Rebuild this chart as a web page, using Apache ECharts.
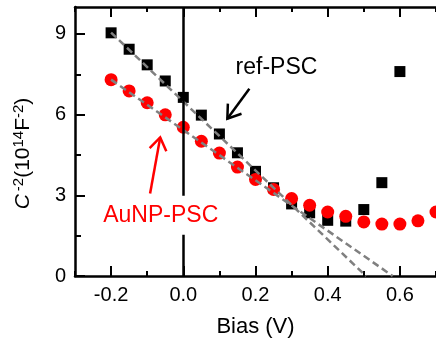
<!DOCTYPE html>
<html>
<head>
<meta charset="utf-8">
<script src="https://cdn.jsdelivr.net/npm/echarts@6/dist/echarts.min.js"></script>
<style>
  html, body { margin: 0; padding: 0; background: #fff; }
  #chart { width: 436px; height: 343px; }
</style>
</head>
<body>
<div id="chart"></div>
<script>
// values
const refBias = [-0.2, -0.15, -0.1, -0.05, 0, 0.05, 0.1, 0.15, 0.2, 0.25, 0.3, 0.35, 0.4, 0.45, 0.5, 0.55, 0.6];
const refPsc = [9.04, 8.43, 7.85, 7.25, 6.64, 5.98, 5.28, 4.58, 3.89, 3.28, 2.68, 2.35, 2.07, 2.04, 2.47, 3.47, 7.6];
const aunpBias = [-0.2, -0.15, -0.1, -0.05, 0, 0.05, 0.1, 0.15, 0.2, 0.25, 0.3, 0.35, 0.4, 0.45, 0.5, 0.55, 0.6, 0.65, 0.7];
const aunpPsc = [7.3, 6.88, 6.44, 5.99, 5.53, 5.01, 4.57, 4.05, 3.59, 3.22, 2.88, 2.63, 2.38, 2.22, 2.01, 1.93, 1.93, 2.05, 2.38];

// linear fits (start, x-intercept)
const refFit = [[-0.2, 9.05], [0.506, 0]];
const aunpFit = [[-0.2, 7.3], [0.58, 0]];

const xMajorTicks = [-0.2, 0, 0.2, 0.4, 0.6];
const yMajorTicks = [0, 3, 6, 9];
const yMinorTicks = [1.5, 4.5, 7.5];

// annotations: label text, label anchor, arrow tail -> arrow tip (data units)
const noteText = ['ref-PSC', 'AuNP-PSC'];
const noteAt = [[0.258, 7.74], [-0.0625, 2.26]];
const noteArrow = [[0.183, 6.96, 0.122, 5.85], [-0.092, 3.07, -0.064, 5.15]];
const noteColor = ['#000000', '#ff0000'];

const FONT = '"Liberation Sans", Arial, sans-serif';

const chart = echarts.init(document.getElementById('chart'));

const zip = (xs, ys) => xs.map((x, i) => [x, ys[i]]);

const xBase = {
  type: 'value', min: -0.3, max: 0.7, interval: 0.1,
  axisLine: { show: true, onZero: false, lineStyle: { color: '#000', width: 2.5 } },
  splitLine: { show: false },
  axisLabel: { show: false },
  axisTick: { show: true, inside: true, length: 5, lineStyle: { color: '#000', width: 2 } }
};

const xMajor = {
  type: 'value', min: -0.3, max: 0.7,
  axisLine: { show: false, onZero: false },
  splitLine: { show: false },
  axisLabel: { show: false },
  axisTick: { show: true, inside: true, length: 10, customValues: xMajorTicks, lineStyle: { color: '#000', width: 2 } }
};

const option = {
  animation: false,
  backgroundColor: '#fff',
  grid: { left: 75, right: 0, top: 7, bottom: 67, containLabel: false, outerBoundsMode: 'none' },
  xAxis: [
    Object.assign({}, xMajor, {
      position: 'bottom',
      name: 'Bias (V)', nameLocation: 'middle', nameGap: 40,
      nameTextStyle: { fontSize: 22, fontFamily: FONT, color: '#000' },
      axisLabel: {
        show: true, customValues: xMajorTicks, margin: 9,
        fontSize: 20, fontFamily: FONT, color: '#000',
        formatter: v => v.toFixed(1)
      }
    }),
    Object.assign({}, xBase, { position: 'bottom' }),
    Object.assign({}, xBase, { position: 'top' }),
    Object.assign({}, xMajor, { position: 'top' })
  ],
  yAxis: [
    {
      type: 'value', min: 0, max: 10, position: 'left',
      name: '{it|C}{sup|-2}{n|(10}{sup|14}{n|F}{sup|-2}{n|)}',
      nameLocation: 'middle', nameGap: 40,
      nameTextStyle: {
        fontSize: 21, fontFamily: FONT, color: '#000',
        padding: [0, 24, 0, 0],
        rich: {
          it: { fontSize: 21, fontStyle: 'italic', fontFamily: FONT, color: '#000', lineHeight: 24, padding: [0, 3, 0, 0] },
          n: { fontSize: 21, fontFamily: FONT, color: '#000', lineHeight: 24 },
          sup: { fontSize: 15, fontFamily: FONT, color: '#000', verticalAlign: 'top', lineHeight: 15 }
        }
      },
      axisLine: { show: true, onZero: false, lineStyle: { color: '#000', width: 2.5 } },
      splitLine: { show: false },
      axisTick: { show: true, inside: true, length: 10, customValues: yMajorTicks, lineStyle: { color: '#000', width: 2 } },
      axisLabel: { show: true, customValues: yMajorTicks, margin: 9, fontSize: 20, fontFamily: FONT, color: '#000' }
    },
    {
      type: 'value', min: 0, max: 10, position: 'left',
      axisLine: { show: false, onZero: false },
      splitLine: { show: false },
      axisLabel: { show: false },
      axisTick: { show: true, inside: true, length: 6, customValues: yMinorTicks, lineStyle: { color: '#000', width: 2 } }
    }
  ],
  series: [
    {
      type: 'line', data: [], z: 1, silent: true,
      markLine: {
        silent: true, symbol: 'none', animation: false,
        label: { show: false },
        lineStyle: { color: '#000', width: 2.5, type: 'solid' },
        data: [{ xAxis: 0 }]
      }
    },
    {
      name: 'ref-PSC', type: 'scatter', z: 2,
      symbol: 'rect', symbolSize: 11,
      itemStyle: { color: '#000', opacity: 1 },
      data: zip(refBias, refPsc)
    },
    {
      name: 'AuNP-PSC', type: 'scatter', z: 3,
      symbol: 'circle', symbolSize: 13,
      itemStyle: { color: '#ff0000', opacity: 1 },
      data: zip(aunpBias, aunpPsc)
    },
    {
      type: 'line', z: 4, symbol: 'none', silent: true,
      lineStyle: { color: '#808080', width: 2.5, type: [7, 4] },
      data: refFit
    },
    {
      type: 'line', z: 4, symbol: 'none', silent: true,
      lineStyle: { color: '#808080', width: 2.5, type: [7, 4] },
      data: aunpFit
    },
    {
      // arrows
      type: 'custom', z: 5, silent: true, clip: false,
      data: noteArrow,
      renderItem: (params, api) => {
        const i = params.dataIndex;
        const a = api.coord([api.value(0), api.value(1)]);
        const b = api.coord([api.value(2), api.value(3)]);
        const ang = Math.atan2(a[1] - b[1], a[0] - b[0]);
        const len = 15, spread = 0.6;
        const h1 = [b[0] + len * Math.cos(ang + spread), b[1] + len * Math.sin(ang + spread)];
        const h2 = [b[0] + len * Math.cos(ang - spread), b[1] + len * Math.sin(ang - spread)];
        const st = { stroke: noteColor[i], lineWidth: 2.5, fill: null };
        return {
          type: 'group',
          children: [
            { type: 'line', shape: { x1: a[0], y1: a[1], x2: b[0], y2: b[1] }, style: st },
            { type: 'polyline', shape: { points: [h1, b, h2] }, style: st }
          ]
        };
      }
    },
    {
      // labels
      type: 'custom', z: 6, silent: true, clip: false,
      data: noteAt,
      renderItem: (params, api) => {
        const i = params.dataIndex;
        const p = api.coord([api.value(0), api.value(1)]);
        return {
          type: 'text', x: p[0], y: p[1],
          style: {
            text: noteText[i], fill: noteColor[i],
            font: '23px ' + FONT,
            align: 'center', verticalAlign: 'middle',
            backgroundColor: '#fff', padding: [8, 2, 8, 2]
          }
        };
      }
    }
  ]
};

chart.setOption(option);
</script>
</body>
</html>
